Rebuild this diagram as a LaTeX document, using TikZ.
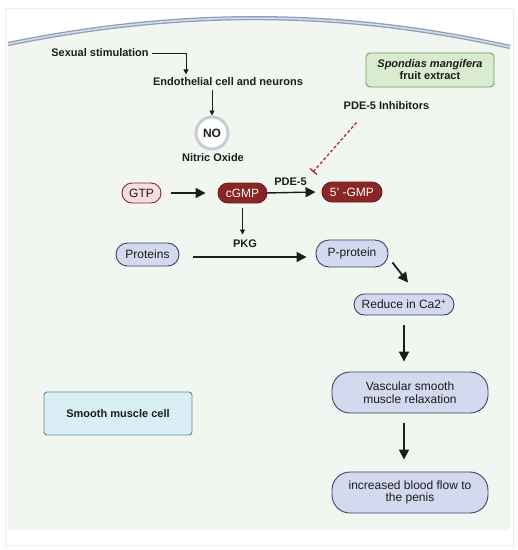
\documentclass[tikz,border=0pt]{standalone}
\usepackage{fontspec}
\setmainfont{Liberation Sans}
\usetikzlibrary{arrows.meta}
\definecolor{cellgreen}{HTML}{F2F6F0}
\definecolor{membrane}{HTML}{8E9FBA}
\definecolor{membranein}{HTML}{D3DBE7}
\definecolor{pinkfill}{HTML}{F7DDDD}
\definecolor{darkred}{HTML}{8A2626}
\definecolor{lavender}{HTML}{D3D9EE}
\definecolor{navy}{HTML}{3B4466}
\definecolor{cyanfill}{HTML}{D9EFF5}
\definecolor{tealline}{HTML}{5D8E98}
\definecolor{greenfill}{HTML}{D9ECD0}
\definecolor{greenline}{HTML}{6E9C5E}
\definecolor{inhibred}{HTML}{B22A2A}
\definecolor{ink}{HTML}{1C1C1C}
\begin{document}
\begin{tikzpicture}[x=1pt,y=-1pt,
  lbl/.style={font=\fontsize{11}{12}\selectfont\bfseries,text=ink},
  pill/.style={rectangle,rounded corners=10pt,draw=navy,fill=lavender,line width=0.9pt,
    font=\fontsize{12}{12.5}\selectfont,text=ink,inner sep=0pt},
  gmp/.style={pill,draw=darkred!80!black,fill=darkred,text=white},
  bigbox/.style={draw=navy,fill=lavender,line width=0.9pt,rounded corners=18pt,
    minimum width=156pt,minimum height=41pt,align=center,
    font=\fontsize{12}{12.5}\selectfont,text=ink},
  arr/.style={-{Triangle[length=10pt,width=10pt]},line width=1.8pt,draw=ink},
  thinarr/.style={-{Triangle[length=5pt,width=5pt]},line width=0.8pt,draw=ink},
  inhibit/.style={-{Bar[width=9pt,line width=1.4pt]},inhibred,line width=1.3pt,
    dash pattern=on 3pt off 2.2pt}]
  \useasboundingbox (0,0) rectangle (518,550);
  % cell outline and membrane
  \draw[gray!15,line width=0.6pt] (5,8) rectangle (513,545);
  \fill[cellgreen] (8,44) .. controls (180,9) and (340,9) .. (510,47)
    -- (510,530) -- (8,530) -- cycle;
  \draw[membrane,line width=4.2pt] (8,44) .. controls (180,9) and (340,9) .. (510,47);
  \draw[membranein,line width=1.6pt] (8,44) .. controls (180,9) and (340,9) .. (510,47);
  % upstream signal
  \node[lbl] (sex) at (100,53) {Sexual stimulation};
  \node[lbl] (endo) at (228,82) {Endothelial cell and neurons};
  \draw[thinarr] (sex.east) -| ([xshift=-42pt]endo.north);
  \node[circle,draw=membranein!85!gray,line width=3pt,fill=white,minimum size=32pt,
    inner sep=0pt,lbl,font=\fontsize{12}{12}\selectfont\bfseries] (no) at (212,133) {NO};
  \node[lbl] (nitric) at (213,158) {Nitric Oxide};
  \draw[thinarr] (endo.south -| no.north) -- (no.north);
  % GTP / cGMP / PDE-5
  \node[pill,draw=darkred,fill=pinkfill,minimum width=39pt,minimum height=20pt] (gtp) at (141.5,193) {GTP};
  \node[gmp,minimum width=49pt,minimum height=20pt] (cgmp) at (242.5,193) {cGMP};
  \node[gmp,minimum width=60pt,minimum height=20pt] (gmp5) at (352,192) {5' -GMP};
  \draw[arr] ([xshift=10pt]gtp.east) -- ([xshift=-12pt]cgmp.west);
  \draw[arr,line width=1.4pt] ([xshift=-2pt]cgmp.east) -- ([xshift=-6pt]gmp5.west)
    node[midway,above=3pt,lbl] (pde) {PDE-5};
  \node[lbl] (inhib) at (386.5,106) {PDE-5 Inhibitors};
  \coordinate (blk) at (313,172);
  \draw[inhibit] ([xshift=-30pt,yshift=-9pt]inhib.south) -- (blk);
  % PKG branch
  \node[lbl] (pkg) at (245,244) {PKG};
  \draw[thinarr] ([yshift=-5pt]cgmp.south) -- ([yshift=2pt]pkg.north -| cgmp.south);
  \node[pill,rounded corners=11.5pt,minimum width=63pt,minimum height=23pt] (prot) at (147.5,254.5) {Proteins};
  \node[pill,rounded corners=13pt,minimum width=72pt,minimum height=27pt] (pprot) at (352,253.5) {P-protein};
  \draw[arr,line width=1.4pt] ([xshift=14pt,yshift=-2.5pt]prot.east) -- ([xshift=-9pt,yshift=-3.5pt]pprot.west);
  % downstream cascade
  \node[pill,rounded corners=10.5pt,minimum width=100pt,minimum height=21pt] (ca) at (404,304.5) {Reduce in Ca2\textsuperscript{+}};
  \draw[arr] ([shift={(4pt,5pt)}]pprot.south east) -- ([shift={(4pt,11pt)}]ca.north);
  \node[bigbox] (relax) at (410,392.5) {Vascular smooth\\muscle relaxation};
  \node[bigbox] (flow) at (410,492.5) {increased blood flow to\\the penis};
  \draw[arr] ([yshift=-10pt]ca.south) -- ([yshift=10pt]relax.north -| ca.south);
  \draw[arr] ([yshift=-10pt]relax.south -| ca.south) -- ([yshift=12pt]flow.north -| ca.south);
  % side boxes
  \node[draw=tealline,fill=cyanfill,line width=0.9pt,rounded corners=3pt,
    minimum width=148pt,minimum height=43pt,lbl] (smc) at (118,413.5) {Smooth muscle cell};
  \node[draw=greenline,fill=greenfill,line width=0.9pt,rounded corners=4pt,
    minimum width=128pt,minimum height=34pt,align=center,lbl] (extract) at (430,70)
    {\textit{Spondias mangifera}\\fruit extract};
\end{tikzpicture}
\end{document}
